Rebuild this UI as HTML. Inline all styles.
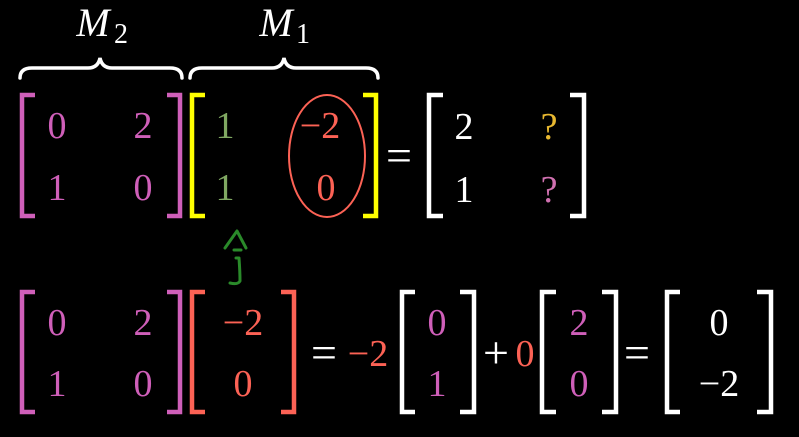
<!DOCTYPE html>
<html><head><meta charset="utf-8"><style>
html,body{margin:0;padding:0;background:#000;width:799px;height:437px;overflow:hidden}
svg{display:block}
</style></head><body>
<svg width="799" height="437" viewBox="0 0 799 437" xmlns="http://www.w3.org/2000/svg" font-family="Liberation Serif, DejaVu Serif, serif" font-size="38" text-anchor="middle">
<g fill="none" stroke-width="4.5">
<path d="M35 95 H22 V216 H35" stroke="#cf5fb9"/>
<path d="M167 95 H180 V216 H167" stroke="#cf5fb9"/>
<path d="M205 95 H192 V216 H205" stroke="#ffff00"/>
<path d="M363 95 H376 V216 H363" stroke="#ffff00"/>
<path d="M443 95 H429 V216 H443" stroke="#fff"/>
<path d="M570 95 H584 V216 H570" stroke="#fff"/>
<path d="M35 292 H22 V412 H35" stroke="#cf5fb9"/>
<path d="M167 292 H180 V412 H167" stroke="#cf5fb9"/>
<path d="M205 292 H192 V412 H205" stroke="#fc6255"/>
<path d="M281 292 H294 V412 H281" stroke="#fc6255"/>
<path d="M415 292 H402 V412 H415" stroke="#fff"/>
<path d="M460 292 H474 V412 H460" stroke="#fff"/>
<path d="M556 292 H542 V412 H556" stroke="#fff"/>
<path d="M602 292 H616 V412 H602" stroke="#fff"/>
<path d="M680 292 H667 V412 H680" stroke="#fff"/>
<path d="M757 292 H771 V412 H757" stroke="#fff"/>
</g>
<g fill="none" stroke="#fff" stroke-width="3.5" stroke-linecap="round">
<path d="M20 78 Q20 68 32 68 H88 Q98 68 100 58 Q102 68 112 68 H170 Q182 68 182 78"/>
<path d="M190 78 Q190 68 202 68 H272 Q282 68 284 58 Q286 68 296 68 H366 Q378 68 378 78"/>
</g>
<text x="93" y="36" fill="#fff" font-style="italic" font-size="40">M</text>
<text x="121" y="43" fill="#fff" font-size="28">2</text>
<text x="276" y="36" fill="#fff" font-style="italic" font-size="40">M</text>
<text x="303" y="43" fill="#fff" font-size="28">1</text>
<ellipse cx="327" cy="156" rx="38" ry="61" fill="none" stroke="#fc6255" stroke-width="2"/>
<g>
<text x="57" y="138" fill="#cf5fb9">0</text>
<text x="143" y="138" fill="#cf5fb9">2</text>
<text x="57" y="200" fill="#cf5fb9">1</text>
<text x="143" y="200" fill="#cf5fb9">0</text>
<text x="225" y="138" fill="#80a862">1</text>
<text x="225" y="200" fill="#80a862">1</text>
<text x="320" y="138" fill="#fc6255">−2</text>
<text x="326" y="200" fill="#fc6255">0</text>
<text x="399" y="171" fill="#fff" font-size="46">=</text>
<text x="464" y="139" fill="#fff">2</text>
<text x="464" y="202" fill="#fff">1</text>
<text x="549" y="139" fill="#e8b830" font-size="38">?</text>
<text x="549" y="202" fill="#d070b0" font-size="38">?</text>
</g>
<g fill="none" stroke="#2a8a2a" stroke-width="3" stroke-linecap="round" stroke-linejoin="round">
<path d="M225 248 L237 231 L246 248"/>
<path d="M234 250 H241"/>
<path d="M236 258 H239 Q240 272 240 281 Q238 285 230 283"/>
</g>
<g>
<text x="57" y="335" fill="#cf5fb9">0</text>
<text x="143" y="335" fill="#cf5fb9">2</text>
<text x="57" y="396" fill="#cf5fb9">1</text>
<text x="143" y="396" fill="#cf5fb9">0</text>
<text x="243" y="335" fill="#fc6255">−2</text>
<text x="243" y="396" fill="#fc6255">0</text>
<text x="324" y="368" fill="#fff" font-size="46">=</text>
<text x="368" y="366" fill="#fc6255">−2</text>
<text x="437" y="335" fill="#cf5fb9">0</text>
<text x="437" y="396" fill="#cf5fb9">1</text>
<text x="496" y="368" fill="#fff" font-size="46">+</text>
<text x="525" y="366" fill="#fc6255">0</text>
<text x="579" y="335" fill="#cf5fb9">2</text>
<text x="579" y="396" fill="#cf5fb9">0</text>
<text x="637" y="368" fill="#fff" font-size="46">=</text>
<text x="719" y="335" fill="#fff">0</text>
<text x="719" y="396" fill="#fff">−2</text>
</g>
</svg>
</body></html>
